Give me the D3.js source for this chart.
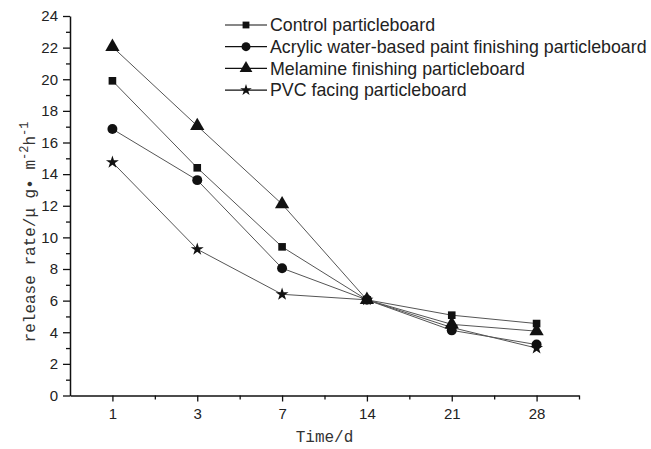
<!DOCTYPE html>
<html>
<head>
<meta charset="utf-8">
<script src="https://cdn.jsdelivr.net/npm/d3@7"></script>
<style>
  body { margin: 0; background: #fff; }
  svg { display: block; }
</style>
</head>
<body>
<div id="chart"></div>
<script>
// data
var days = ["1", "3", "7", "14", "21", "28"];
var controlVals  = [19.9, 14.4, 9.4, 6.05, 5.08, 4.55];
var acrylicVals  = [16.85, 13.62, 8.05, 6.05, 4.12, 3.22];
var melamineVals = [22.05, 17.05, 12.1, 6.05, 4.5, 4.07];
var pvcVals      = [14.75, 9.25, 6.4, 6.05, 4.3, 3.0];
var seriesNames = ["Control particleboard",
                   "Acrylic water-based paint finishing particleboard",
                   "Melamine finishing particleboard",
                   "PVC facing particleboard"];
var yTicks = [0, 2, 4, 6, 8, 10, 12, 14, 16, 18, 20, 22, 24];

var series = [
  {name: seriesNames[0], values: controlVals,  symbol: d3.symbolSquare,   size: 58},
  {name: seriesNames[1], values: acrylicVals,  symbol: d3.symbolCircle,   size: 78},
  {name: seriesNames[2], values: melamineVals, symbol: d3.symbolTriangle, size: 88},
  {name: seriesNames[3], values: pvcVals,      symbol: d3.symbolStar,     size: 52}
];

var width = 651, height = 449;
var svg = d3.select("#chart").append("svg")
            .attr("width", width)
            .attr("height", height);

// scales
var xScale = d3.scaleLinear().domain([0.5, 6.5]).range([70, 579]);
var yScale = d3.scaleLinear().domain([0, 24]).range([395.5, 16]);

var sans = "Liberation Sans, Arial, sans-serif";
var mono = "Liberation Mono, Courier New, monospace";

// minor ticks
svg.append("g")
   .attr("transform", "translate(70,0)")
   .call(d3.axisLeft(yScale).tickValues(d3.range(1, 24, 2)).tickSize(4).tickFormat(""))
   .call(function(g) { g.select(".domain").remove(); })
   .selectAll("line").attr("stroke-width", 1.3).attr("stroke", "#111");
svg.append("g")
   .attr("transform", "translate(0,395.5)")
   .call(d3.axisBottom(xScale).tickValues(d3.range(1.5, 7, 1)).tickSize(4).tickFormat(""))
   .call(function(g) { g.select(".domain").remove(); })
   .selectAll("line").attr("stroke-width", 1.3).attr("stroke", "#111");

// major y axis
var yAxis = svg.append("g")
   .attr("transform", "translate(70,0)")
   .call(d3.axisLeft(yScale).tickValues(yTicks).tickSize(7).tickSizeOuter(0).tickPadding(5));
yAxis.select(".domain").attr("stroke-width", 1.5).attr("stroke", "#111");
yAxis.selectAll("line").attr("stroke-width", 1.3).attr("stroke", "#111");
yAxis.selectAll("text").attr("font-family", sans).attr("font-size", 15).attr("fill", "#222");

// major x axis
var xAxis = svg.append("g")
   .attr("transform", "translate(0,395.5)")
   .call(d3.axisBottom(xScale).tickValues(d3.range(1, 7))
           .tickFormat(function(d) { return days[d - 1]; })
           .tickSize(6).tickSizeOuter(0).tickPadding(7));
xAxis.select(".domain").attr("stroke-width", 1.5).attr("stroke", "#111");
xAxis.selectAll("line").attr("stroke-width", 1.3).attr("stroke", "#111");
xAxis.selectAll("text").attr("font-family", sans).attr("font-size", 15).attr("fill", "#222");

// axis titles
svg.append("text")
   .attr("x", xScale(3.5))
   .attr("y", 442)
   .attr("text-anchor", "middle")
   .attr("font-family", mono)
   .attr("font-size", 16)
   .attr("fill", "#333")
   .text("Time/d");

var ylab = svg.append("text")
   .attr("transform", "translate(35,232) rotate(-90)")
   .attr("text-anchor", "middle")
   .attr("font-family", mono)
   .attr("font-size", 16)
   .attr("fill", "#333");
ylab.append("tspan").text("release rate/\u03bc g\u2022 m");
ylab.append("tspan").attr("dy", -7).attr("font-size", 12).text("-2");
ylab.append("tspan").attr("dy", 7).text("h");
ylab.append("tspan").attr("dy", -7).attr("font-size", 12).text("-1");

// lines and markers
var line = d3.line()
  .x(function(d, i) { return xScale(i + 1); })
  .y(function(d) { return yScale(d); });

series.forEach(function(s) {
  svg.append("path")
     .datum(s.values)
     .attr("d", line)
     .attr("fill", "none")
     .attr("stroke", "#555")
     .attr("stroke-width", 1);
});
series.forEach(function(s) {
  svg.selectAll(null)
     .data(s.values)
     .enter().append("path")
     .attr("d", d3.symbol().type(s.symbol).size(s.size))
     .attr("transform", function(d, i) { return "translate(" + xScale(i + 1) + "," + yScale(d) + ")"; })
     .attr("fill", "#111");
});

// legend
var legend = svg.append("g");
series.forEach(function(s, i) {
  var cy = 25 + i * 21.7;
  legend.append("line")
        .attr("x1", 225).attr("x2", 267)
        .attr("y1", cy).attr("y2", cy)
        .attr("stroke", "#111").attr("stroke-width", 1.2);
  legend.append("path")
        .attr("d", d3.symbol().type(s.symbol).size(s.size * 0.8))
        .attr("transform", "translate(246," + cy + ")")
        .attr("fill", "#111");
  legend.append("text")
        .attr("x", 270).attr("y", cy + 6.3)
        .attr("font-family", sans)
        .attr("font-size", 17.8)
        .attr("fill", "#222")
        .text(s.name);
});
</script>
</body>
</html>
